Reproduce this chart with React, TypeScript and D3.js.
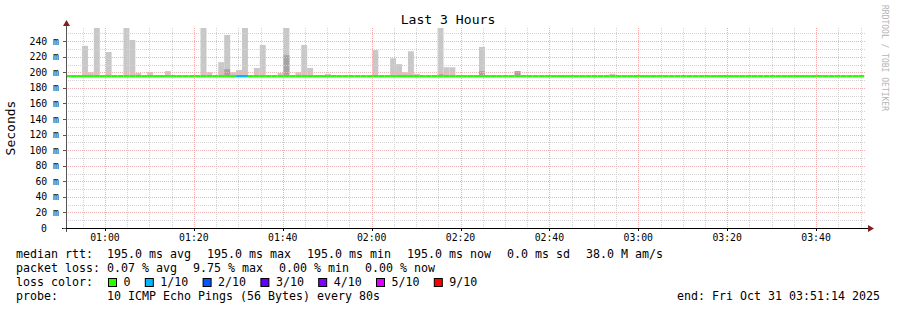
import React from 'react';
import * as d3 from 'd3';

const W = 897;
const H = 310;
const title = 'Last 3 Hours';
const yAxisTitle = 'Seconds';
const watermark = 'RRDTOOL / TOBI OETIKER';

const startTime = new Date(2025, 9, 31, 0, 51, 14);
const endTime = new Date(2025, 9, 31, 3, 51, 14);
const firstStepTime = new Date(2025, 9, 31, 0, 50, 50);
const stepSeconds = 80;
const stepCount = 135;
const yMax = 0.2569;

// median rtt (seconds) – constant over the window (avg = max = min = now)
const medianRtt = 0.195;

// smoke: steps that have spread, top of smoke (ms) and top of darker inner band (ms, 0 = none)
const smokeSteps = [3, 4, 5, 7, 10, 11, 12, 14, 17, 23, 24, 26, 27, 28, 29, 30, 32, 33, 36, 37, 39, 40, 41, 44, 52, 55, 56, 57, 58, 59, 63, 64, 65, 70, 76, 92];
const smokeTopMs = [234, 200, 262, 226, 262, 241.5, 199, 200.5, 201.5, 262, 200, 213, 248, 200, 203, 262, 205.5, 235, 199, 262, 200, 235, 205.5, 198, 228.5, 218, 210.5, 200, 227, 198, 262, 206.5, 206.5, 232.5, 201.5, 198];
const smokeDarkMs = [0, 0, 0, 0, 0, 0, 0, 0, 0, 0, 0, 0, 204, 0, 0, 0, 0, 0, 0, 222, 0, 0, 0, 0, 0, 0, 0, 0, 0, 0, 197.5, 0, 0, 201.5, 201.5, 0];

// packet loss per step (pings lost of 10)
const lossSteps = [29, 30];
const lossCounts = [1, 1];

const yTickValues = [0, 0.02, 0.04, 0.06, 0.08, 0.1, 0.12, 0.14, 0.16, 0.18, 0.2, 0.22, 0.24];
const yTickLabels = ['0', '20 m', '40 m', '60 m', '80 m', '100 m', '120 m', '140 m', '160 m', '180 m', '200 m', '220 m', '240 m'];

const legendRows = [
  ['median rtt:', '195.0 ms avg', '195.0 ms max', '195.0 ms min', '195.0 ms now', '0.0 ms sd', '38.0 M am/s'],
  ['packet loss:', '0.07 % avg', '9.75 % max', '0.00 % min', '0.00 % now'],
];
const lossLabels = ['0', '1/10', '2/10', '3/10', '4/10', '5/10', '9/10'];
const lossLegendColors = ['#26ff00', '#00b8ff', '#0059ff', '#5e00ff', '#7e00ff', '#dd00ff', '#ff0000'];
const probeLabel = 'probe:';
const probeText = '10 ICMP Echo Pings (56 Bytes) every 80s';
const endText = 'end: Fri Oct 31 03:51:14 2025';

const lossColor = (n: number) => {
  if (n <= 0) return lossLegendColors[0];
  if (n >= 6) return lossLegendColors[6];
  return lossLegendColors[n];
};

const MONO = "'DejaVu Sans Mono', monospace";

export default function App() {
  const X0 = 66;
  const X1 = 866;
  const Y0 = 228;
  const YT = 28;
  const x = d3.scaleTime().domain([startTime, endTime]).range([X0, X1]);
  const y = d3.scaleLinear().domain([0, yMax]).range([Y0, YT]);

  const stepStart = (k: number) => new Date(firstStepTime.getTime() + k * stepSeconds * 1000);
  const sx = (k: number) => Math.max(X0, x(stepStart(k)));

  const minorX = d3.timeMinute.every(5)!.range(startTime, endTime).filter((d) => d.getMinutes() % 20 !== 0);
  const majorX = d3.timeMinute.every(20)!.range(startTime, endTime);
  const minorY = d3.range(1, 26).map((i) => i * 0.01).filter((v, i) => (i + 1) % 2 === 1);
  const majorY = yTickValues.slice(1);

  const fmt = d3.timeFormat('%H:%M');
  const charW = 7;
  const legendX0 = 16;
  const legendCol = 107;
  const rowY = [258, 272, 286, 300];

  const rowPositions = (items: string[]) => {
    const pos: number[] = [];
    let cx = legendCol;
    items.forEach((s) => {
      pos.push(cx);
      cx += s.length * charW + 16;
    });
    return pos;
  };

  const lossBoxX: number[] = [];
  {
    let bx = 108;
    lossLabels.forEach((l) => {
      lossBoxX.push(bx);
      bx = bx + 15.5 + l.length * charW + 14.3;
    });
  }

  const medianSegs = d3.range(stepCount).map((k) => {
    const li = lossSteps.indexOf(k);
    const n = li >= 0 ? lossCounts[li] : 0;
    return { x1: sx(k), x2: x(stepStart(k + 1)), color: lossColor(n) };
  });

  return (
    <svg width={W} height={H} style={{ position: 'absolute', left: 0, top: 0, background: '#fff' }} fontFamily={MONO}>
      <rect x={0} y={0} width={W} height={H} fill="#ffffff" />
      {/* title */}
      <text x={448} y={24} fontSize={13.1} textAnchor="middle" fill="#000">{title}</text>
      {/* watermark */}
      <text transform={`translate(884,5) rotate(90)`} fontSize={8} fill="#b4b4b4" dominantBaseline="middle">{watermark}</text>
      {/* y axis title */}
      <text transform={`translate(15,${(Y0 + YT) / 2}) rotate(-90)`} fontSize={13} textAnchor="middle" fill="#000">{yAxisTitle}</text>

      {/* smoke */}
      <g>
        {smokeSteps.map((k, i) => {
          const x1 = sx(k);
          const x2 = x(stepStart(k + 1));
          const top = Math.max(YT, y(smokeTopMs[i] / 1000));
          const bot = y(medianRtt);
          return <rect key={'s' + k} x={x1} y={top} width={x2 - x1} height={bot - top} fill="#c8c8c8" />;
        })}
        {smokeSteps.map((k, i) => {
          if (!smokeDarkMs[i]) return null;
          const x1 = sx(k);
          const x2 = x(stepStart(k + 1));
          const top = Math.max(YT, y(smokeDarkMs[i] / 1000));
          const bot = y(medianRtt);
          return <rect key={'d' + k} x={x1} y={top} width={x2 - x1} height={bot - top} fill="#a4a4a4" />;
        })}
      </g>

      {/* grid */}
      <g strokeDasharray="1,1" strokeWidth={1} shapeRendering="crispEdges">
        {minorX.map((d) => (
          <line key={'mx' + d.getTime()} x1={Math.round(x(d)) + 0.5} x2={Math.round(x(d)) + 0.5} y1={YT} y2={Y0} stroke="#d2d2d2" />
        ))}
        {minorY.map((v) => (
          <line key={'my' + v} x1={X0} x2={X1} y1={Math.round(y(v)) + 0.5} y2={Math.round(y(v)) + 0.5} stroke="#d2d2d2" />
        ))}
        {majorX.map((d) => (
          <line key={'Mx' + d.getTime()} x1={Math.round(x(d)) + 0.5} x2={Math.round(x(d)) + 0.5} y1={YT} y2={Y0} stroke="#f4acac" />
        ))}
        {majorY.map((v) => (
          <line key={'My' + v} x1={X0} x2={X1} y1={Math.round(y(v)) + 0.5} y2={Math.round(y(v)) + 0.5} stroke="#ecb4b4" />
        ))}
      </g>

      {/* median line */}
      <g>
        {medianSegs.map((s, i) => (
          <line key={'m' + i} x1={s.x1} x2={s.x2} y1={y(medianRtt)} y2={y(medianRtt)} stroke={s.color} strokeWidth={2.4} />
        ))}
      </g>

      {/* axes */}
      <g shapeRendering="crispEdges">
        <line x1={X0 + 0.5} x2={X0 + 0.5} y1={Y0 + 4} y2={YT - 3} stroke="#555" />
        <line x1={X0 - 4} x2={X1 + 3} y1={Y0 + 0.5} y2={Y0 + 0.5} stroke="#000" />
        {majorY.concat([0]).map((v) => (
          <line key={'yt' + v} x1={X0 - 3} x2={X0} y1={Math.round(y(v)) + 0.5} y2={Math.round(y(v)) + 0.5} stroke="#555" />
        ))}
        {majorX.map((d) => (
          <line key={'xt' + d.getTime()} x1={Math.round(x(d)) + 0.5} x2={Math.round(x(d)) + 0.5} y1={Y0} y2={Y0 + 3} stroke="#000" />
        ))}
      </g>
      <path d={`M${X0 - 3},${YT - 2} L${X0 + 4},${YT - 2} L${X0 + 0.5},${YT - 8} Z`} fill="#7f1f1f" />
      <path d={`M${X1 + 2},${Y0 - 3} L${X1 + 2},${Y0 + 4} L${X1 + 8},${Y0 + 0.5} Z`} fill="#7f1f1f" />

      {/* y tick labels */}
      {yTickValues.map((v, i) => (
        <text key={'yl' + v} x={v === 0 ? 47 : 59} y={y(v) + 3.5} fontSize={9.8} textAnchor="end" fill="#000">{yTickLabels[i]}</text>
      ))}
      {/* x tick labels */}
      {majorX.map((d) => (
        <text key={'xl' + d.getTime()} x={x(d)} y={241} fontSize={9.8} textAnchor="middle" fill="#000">{fmt(d)}</text>
      ))}

      {/* legend */}
      <g fontSize={11.63} fill="#000" style={{ whiteSpace: 'pre' }}>
        {legendRows.map((row, r) => {
          const pos = rowPositions(row.slice(1));
          return (
            <g key={'lr' + r}>
              <text x={legendX0} y={rowY[r]}>{row[0]}</text>
              {row.slice(1).map((s, i) => (
                <text key={i} x={pos[i]} y={rowY[r]}>{s}</text>
              ))}
            </g>
          );
        })}
        <text x={legendX0} y={rowY[2]}>loss color:</text>
        {lossLabels.map((l, i) => (
          <g key={'ll' + i}>
            <rect x={lossBoxX[i] + 0.5} y={278.5} width={8} height={8} fill={lossLegendColors[i]} stroke="#000" strokeWidth={1} />
            <text x={lossBoxX[i] + 15.5} y={rowY[2]}>{l}</text>
          </g>
        ))}
        <text x={legendX0} y={rowY[3]}>{probeLabel}</text>
        <text x={legendCol} y={rowY[3]}>{probeText}</text>
        <text x={880} y={rowY[3]} textAnchor="end">{endText}</text>
      </g>
    </svg>
  );
}
